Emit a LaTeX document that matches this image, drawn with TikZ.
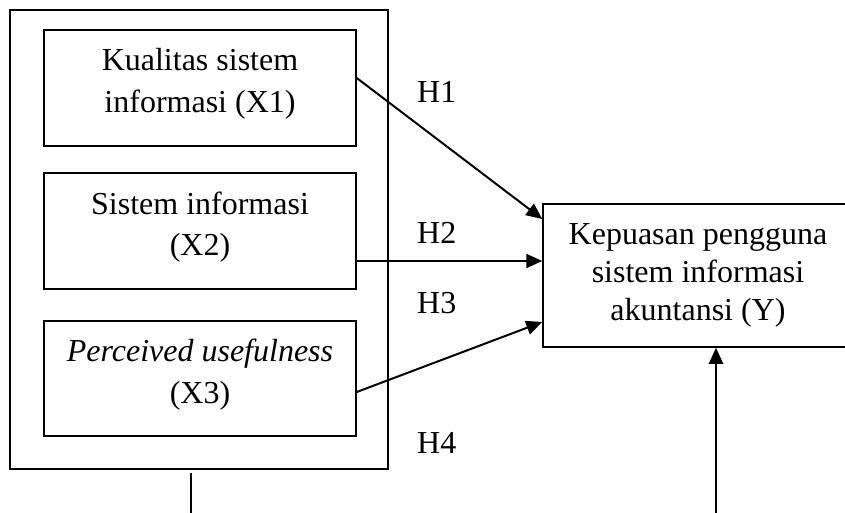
\documentclass[tikz,border=0pt]{standalone}
\usepackage{fontspec}
\setmainfont{Liberation Serif}
\usetikzlibrary{arrows.meta,positioning}

\begin{document}
\begin{tikzpicture}[x=1pt, y=-1pt,
    varbox/.style={draw, line width=1.5pt, minimum width=312pt, minimum height=116pt,
      align=center, inner sep=0pt, text depth=15pt, font=\fontsize{32}{41.5}\selectfont},
    hyp/.style={anchor=base west, inner sep=0pt, font=\fontsize{32}{38}\selectfont},
    link/.style={line width=2pt, -{Triangle[length=16pt, width=14pt]}}]
  \clip (0,0) rectangle (845,513);
  \node[draw, line width=1.5pt, minimum width=378pt, minimum height=459pt] (grp) at (199,239.5) {};
  \node[varbox] (x1) at (200,88) {Kualitas sistem\\informasi (X1)};
  \node[varbox] (x2) at (200,231) {Sistem informasi\\(X2)};
  \node[varbox, minimum height=115pt] (x3) at (200,378.5) {\textit{Perceived usefulness}\\(X3)};
  \node[draw, line width=1.5pt, minimum width=310pt, minimum height=143pt, align=center,
        inner sep=0pt, font=\fontsize{32}{38}\selectfont] (y) at (698,275.5)
        {Kepuasan pengguna\\sistem informasi\\akuntansi (Y)};
  \draw[link] ([yshift=10pt]x1.east) -- ([yshift=56.5pt]y.west);
  \draw[link] ([yshift=-30pt]x2.east) -- ([yshift=-30pt]x2.east -| y.west);
  \draw[link] ([yshift=-13.5pt]x3.east) -- ([yshift=-46.5pt]y.west);
  \node[hyp] (h1) at (417,103) {H1};
  \node[hyp] (h2) at (417,243) {H2};
  \node[hyp] (h3) at (417,313) {H3};
  \node[hyp] (h4) at (417,453) {H4};
  \coordinate (tailtop) at (191,473);
  \coordinate (tailbot) at (191,513);
  \draw[line width=1.5pt] (tailtop) -- (tailbot);
  \coordinate (ybase) at (716,513);
  \draw[link] (ybase) -- (ybase |- y.south);
\end{tikzpicture}
\end{document}
